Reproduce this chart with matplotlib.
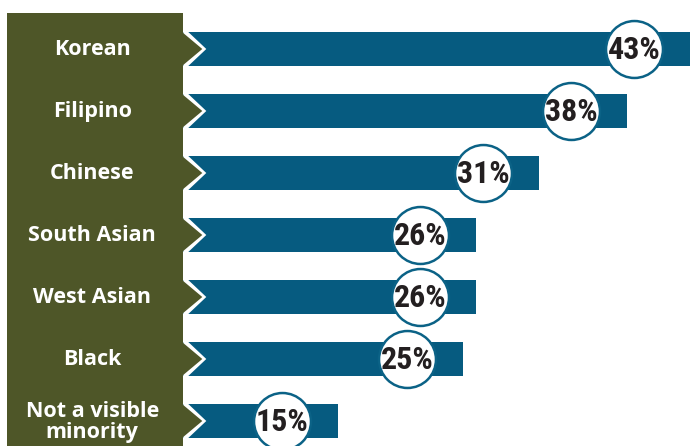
import matplotlib
matplotlib.use('Agg')
import matplotlib.pyplot as plt
from matplotlib.patches import Rectangle, Polygon

# data
groups = ['Korean', 'Filipino', 'Chinese', 'South Asian', 'West Asian', 'Black',
          'Not a visible\nminority']
shares = [43, 38, 31, 26, 26, 25, 15]
share_labels = ['43%', '38%', '31%', '26%', '26%', '25%', '15%']

BLUE = '#065b80'
OLIVE = '#4e5628'
RING = '#0b6286'
INK = '#231f20'

# pixel layout helpers (1 unit = 12.56 px, zero at px 148.8)
PX = 1 / 12.56
X0 = 148.8

fig = plt.figure(figsize=(6.9, 4.46), dpi=100)
ax = fig.add_axes([0, 0, 1, 1])
ax.set_xlim(-X0 * PX, (689 - X0) * PX)
ax.set_ylim((446 - 49) / 62, -49 / 62)
ax.axis('off')

ypos = list(range(len(groups)))
bar_h = 34 / 62
ax.barh(ypos, shares, height=bar_h, left=0, color=BLUE, zorder=1)

# olive side panel
panel_l = (7 - X0) * PX
panel_r = (183 - X0) * PX
ax.add_patch(Rectangle((panel_l, (13 - 49) / 62), panel_r - panel_l, 10,
                       facecolor=OLIVE, edgecolor='none', zorder=3))

tip_olive = (202 - X0) * PX
tip_white = (206 - X0) * PX
top_white = (188 - X0) * PX
hh = bar_h / 2
for y in ypos:
    ax.add_patch(Polygon([(panel_r, y - hh), (top_white, y - hh), (tip_white, y),
                          (top_white, y + hh), (panel_r, y + hh)],
                         facecolor='white', edgecolor='none', zorder=2))
    ax.add_patch(Polygon([(panel_r - 0.1, y - hh), (tip_olive, y), (panel_r - 0.1, y + hh)],
                         facecolor=OLIVE, edgecolor='none', zorder=3))

label_x = (92 - X0) * PX
for y, name in zip(ypos, groups):
    ax.text(label_x, y + 0.01, name, color='white', fontsize=15.5, fontweight='bold',
            family=['Open Sans', 'DejaVu Sans'], ha='center', va='center',
            linespacing=1.0, zorder=5)

# value bubbles
cx = [v - 56 * PX for v in shares]
ax.scatter(cx, ypos, s=41 ** 2, facecolor='white', edgecolor=RING, linewidth=1.8, zorder=4)
for x, y, lab in zip(cx, ypos, share_labels):
    ax.text(x, y + 0.02, lab, color=INK, fontsize=23, fontweight='bold',
            family=['Roboto Condensed', 'DejaVu Sans'], ha='center', va='center',
            zorder=5)

fig.savefig('out.png', dpi=100, facecolor='white')
